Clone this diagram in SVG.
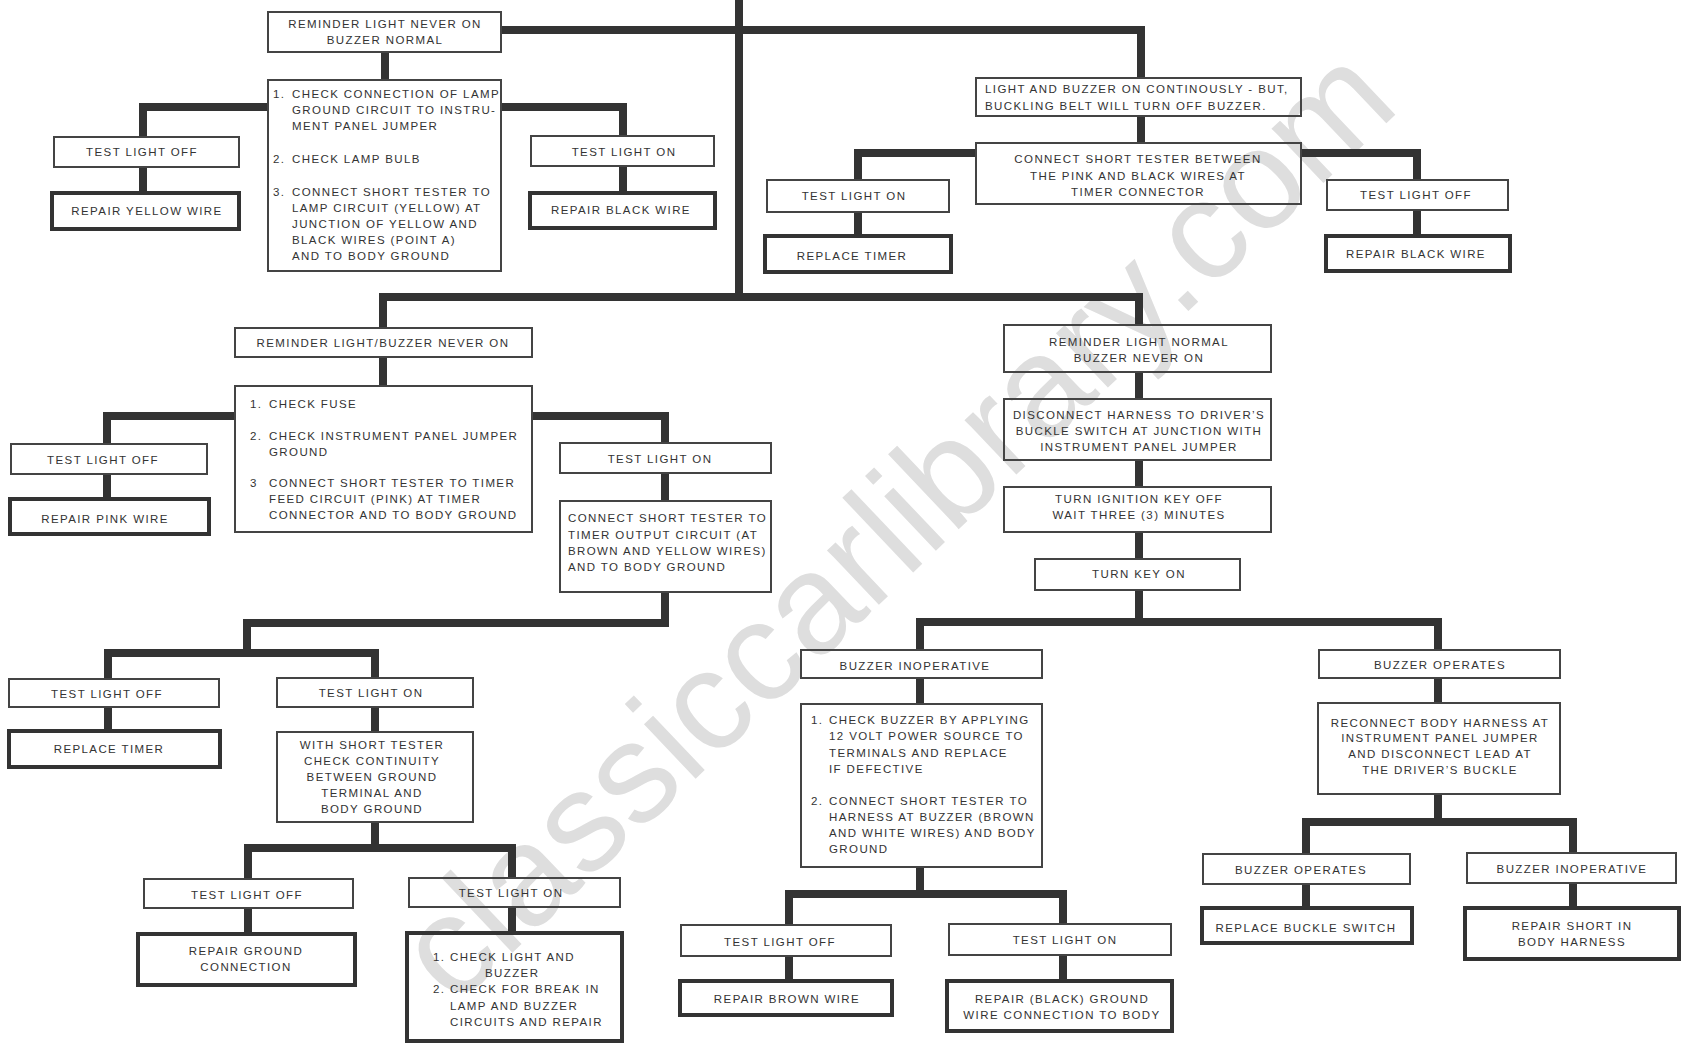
<svg xmlns="http://www.w3.org/2000/svg" width="1681" height="1045" viewBox="0 0 1681 1045">
<style>
.b{fill:none;stroke:#444;stroke-width:2}
.t{fill:none;stroke:#333;stroke-width:4}
.c{fill:none;stroke:#333;stroke-width:8;stroke-linejoin:miter;stroke-linecap:butt}
text{font-family:"Liberation Sans",Arial,sans-serif;font-size:11.5px;letter-spacing:1.4px;fill:#333}
.m{text-anchor:middle}
.wm{font-family:"Liberation Sans",Arial,sans-serif;font-size:142px;letter-spacing:0;fill:#dedede}
</style>
<rect width="1681" height="1045" fill="#fff"/>
<text class="wm" transform="translate(454,1008) rotate(-43.5)">classiccarlibrary.com</text>
<g id="connectors">
<path class="c" d="M739,0 V297"/>
<path class="c" d="M501,30 H1141 V78"/>
<path class="c" d="M385,52 V80"/>
<path class="c" d="M268,107 H143 V137"/>
<path class="c" d="M501,107 H623 V136"/>
<path class="c" d="M143,167 V193"/>
<path class="c" d="M623,166 V193"/>
<path class="c" d="M1141,116 V143"/>
<path class="c" d="M976,153 H858 V180"/>
<path class="c" d="M1301,153 H1417 V180"/>
<path class="c" d="M858,212 V236"/>
<path class="c" d="M1417,210 V236"/>
<path class="c" d="M383,328 V297 H1139 V325"/>
<path class="c" d="M383,357 V386"/>
<path class="c" d="M235,416 H107 V444"/>
<path class="c" d="M532,416 H665 V443"/>
<path class="c" d="M107,474 V499"/>
<path class="c" d="M665,473 V501"/>
<path class="c" d="M665,592 V623 H247 V653"/>
<path class="c" d="M108,679 V653 H375 V678"/>
<path class="c" d="M108,707 V731"/>
<path class="c" d="M375,707 V732"/>
<path class="c" d="M375,822 V848"/>
<path class="c" d="M248,879 V848 H512 V878"/>
<path class="c" d="M248,908 V934"/>
<path class="c" d="M512,907 V933"/>
<path class="c" d="M1139,372 V399"/>
<path class="c" d="M1139,460 V487"/>
<path class="c" d="M1139,532 V559"/>
<path class="c" d="M1139,590 V622"/>
<path class="c" d="M920,650 V622 H1438 V650"/>
<path class="c" d="M920,678 V704"/>
<path class="c" d="M920,867 V894"/>
<path class="c" d="M789,925 V894 H1063 V924"/>
<path class="c" d="M789,956 V981"/>
<path class="c" d="M1063,955 V981"/>
<path class="c" d="M1438,678 V703"/>
<path class="c" d="M1438,794 V822"/>
<path class="c" d="M1306,854 V822 H1573 V853"/>
<path class="c" d="M1306,884 V908"/>
<path class="c" d="M1573,883 V908"/>
</g>
<g id="A1"><rect class="b" x="268" y="12" width="233" height="40"/><text class="m" x="385" y="27.5">REMINDER LIGHT NEVER ON</text><text class="m" x="385" y="43.5">BUZZER NORMAL</text></g>
<g id="A2"><rect class="b" x="268" y="80" width="233" height="191"/>
<text x="273" y="97.5">1.</text><text x="292" y="97.5">CHECK CONNECTION OF LAMP</text>
<text x="292" y="113.5">GROUND CIRCUIT TO INSTRU-</text>
<text x="292" y="129.5">MENT PANEL JUMPER</text>
<text x="273" y="162.5">2.</text><text x="292" y="162.5">CHECK LAMP BULB</text>
<text x="273" y="196">3.</text><text x="292" y="196">CONNECT SHORT TESTER TO</text>
<text x="292" y="212">LAMP CIRCUIT (YELLOW) AT</text>
<text x="292" y="228">JUNCTION OF YELLOW AND</text>
<text x="292" y="244">BLACK WIRES (POINT A)</text>
<text x="292" y="260">AND TO BODY GROUND</text></g>
<g id="A3"><rect class="b" x="54" y="137" width="185" height="30"/><text class="m" x="142" y="156">TEST LIGHT OFF</text></g>
<g id="A4"><rect class="t" x="52" y="193" width="187" height="36"/><text class="m" x="147" y="214.7">REPAIR YELLOW WIRE</text></g>
<g id="A5"><rect class="b" x="531" y="136" width="183" height="30"/><text class="m" x="624" y="156.3">TEST LIGHT ON</text></g>
<g id="A6"><rect class="t" x="530" y="193" width="185" height="35"/><text class="m" x="621" y="214">REPAIR BLACK WIRE</text></g>
<g id="B1"><rect class="b" x="976" y="78" width="325" height="38"/><text x="985" y="93.3">LIGHT AND BUZZER ON CONTINOUSLY - BUT,</text><text x="985" y="110">BUCKLING BELT WILL TURN OFF BUZZER.</text></g>
<g id="B2"><rect class="b" x="976" y="143" width="325" height="61"/><text class="m" x="1138" y="162.7">CONNECT SHORT TESTER BETWEEN</text><text class="m" x="1138" y="179.7">THE PINK AND BLACK WIRES AT</text><text class="m" x="1138" y="196.3">TIMER CONNECTOR</text></g>
<g id="B3"><rect class="b" x="767" y="180" width="182" height="32"/><text class="m" x="854" y="200">TEST LIGHT ON</text></g>
<g id="B4"><rect class="t" x="765" y="236" width="186" height="36"/><text class="m" x="852" y="260">REPLACE TIMER</text></g>
<g id="B5"><rect class="b" x="1327" y="180" width="181" height="30"/><text class="m" x="1416" y="199">TEST LIGHT OFF</text></g>
<g id="B6"><rect class="t" x="1326" y="236" width="184" height="35"/><text class="m" x="1416" y="258">REPAIR BLACK WIRE</text></g>
<g id="C1"><rect class="b" x="235" y="328" width="297" height="29"/><text class="m" x="383" y="347.3">REMINDER LIGHT/BUZZER NEVER ON</text></g>
<g id="C2"><rect class="b" x="235" y="386" width="297" height="146"/>
<text x="250" y="408">1.</text><text x="269" y="408">CHECK FUSE</text>
<text x="250" y="440">2.</text><text x="269" y="440">CHECK INSTRUMENT PANEL JUMPER</text>
<text x="269" y="455.7">GROUND</text>
<text x="250" y="487.3">3</text><text x="269" y="487.3">CONNECT SHORT TESTER TO TIMER</text>
<text x="269" y="503.3">FEED CIRCUIT (PINK) AT TIMER</text>
<text x="269" y="519">CONNECTOR AND TO BODY GROUND</text></g>
<g id="C3"><rect class="b" x="11" y="444" width="196" height="30"/><text class="m" x="103" y="464">TEST LIGHT OFF</text></g>
<g id="C4"><rect class="t" x="10" y="499" width="199" height="35"/><text class="m" x="105" y="523">REPAIR PINK WIRE</text></g>
<g id="C5"><rect class="b" x="560" y="443" width="211" height="30"/><text class="m" x="660" y="463">TEST LIGHT ON</text></g>
<g id="C6"><rect class="b" x="560" y="501" width="211" height="91"/><text x="568" y="522.3">CONNECT SHORT TESTER TO</text><text x="568" y="539">TIMER OUTPUT CIRCUIT (AT</text><text x="568" y="554.7">BROWN AND YELLOW WIRES)</text><text x="568" y="570.7">AND TO BODY GROUND</text></g>
<g id="D1"><rect class="b" x="9" y="679" width="210" height="28"/><text class="m" x="107" y="698">TEST LIGHT OFF</text></g>
<g id="D2"><rect class="t" x="9" y="731" width="211" height="36"/><text class="m" x="109" y="753.3">REPLACE TIMER</text></g>
<g id="D3"><rect class="b" x="277" y="678" width="196" height="29"/><text class="m" x="371" y="697.3">TEST LIGHT ON</text></g>
<g id="D4"><rect class="b" x="277" y="732" width="196" height="90"/><text class="m" x="372" y="749">WITH SHORT TESTER</text><text class="m" x="372" y="765">CHECK CONTINUITY</text><text class="m" x="372" y="781.3">BETWEEN GROUND</text><text class="m" x="372" y="797.3">TERMINAL AND</text><text class="m" x="372" y="813.3">BODY GROUND</text></g>
<g id="D5"><rect class="b" x="144" y="879" width="209" height="29"/><text class="m" x="247" y="899.3">TEST LIGHT OFF</text></g>
<g id="D6"><rect class="t" x="138" y="934" width="217" height="51"/><text class="m" x="246" y="954.7">REPAIR GROUND</text><text class="m" x="246" y="970.7">CONNECTION</text></g>
<g id="D7"><rect class="b" x="409" y="878" width="211" height="29"/><text class="m" x="511" y="897.3">TEST LIGHT ON</text></g>
<g id="D8"><rect class="t" x="407" y="933" width="215" height="108"/>
<text x="433" y="960.7">1.</text><text x="450" y="960.7">CHECK LIGHT AND</text>
<text x="485" y="976.7">BUZZER</text>
<text x="433" y="993">2.</text><text x="450" y="993">CHECK FOR BREAK IN</text>
<text x="450" y="1009.7">LAMP AND BUZZER</text>
<text x="450" y="1025.7">CIRCUITS AND REPAIR</text></g>
<g id="E1"><rect class="b" x="1004" y="325" width="267" height="47"/><text class="m" x="1139" y="346.3">REMINDER LIGHT NORMAL</text><text class="m" x="1139" y="362.3">BUZZER NEVER ON</text></g>
<g id="E2"><rect class="b" x="1004" y="399" width="267" height="61"/><text class="m" x="1139" y="419">DISCONNECT HARNESS TO DRIVER’S</text><text class="m" x="1139" y="435">BUCKLE SWITCH AT JUNCTION WITH</text><text class="m" x="1139" y="451.3">INSTRUMENT PANEL JUMPER</text></g>
<g id="E3"><rect class="b" x="1004" y="487" width="267" height="45"/><text class="m" x="1139" y="503.3">TURN IGNITION KEY OFF</text><text class="m" x="1139" y="519.3">WAIT THREE (3) MINUTES</text></g>
<g id="E4"><rect class="b" x="1035" y="559" width="205" height="31"/><text class="m" x="1139" y="578.3">TURN KEY ON</text></g>
<g id="F0"><rect class="b" x="801" y="650" width="241" height="28"/><text class="m" x="915" y="670">BUZZER INOPERATIVE</text></g>
<g id="F1"><rect class="b" x="801" y="704" width="241" height="163"/>
<text x="811" y="724">1.</text><text x="829" y="724">CHECK BUZZER BY APPLYING</text>
<text x="829" y="740">12 VOLT POWER SOURCE TO</text>
<text x="829" y="756.7">TERMINALS AND REPLACE</text>
<text x="829" y="773">IF DEFECTIVE</text>
<text x="811" y="805.3">2.</text><text x="829" y="805.3">CONNECT SHORT TESTER TO</text>
<text x="829" y="821.3">HARNESS AT BUZZER (BROWN</text>
<text x="829" y="837.3">AND WHITE WIRES) AND BODY</text>
<text x="829" y="853.3">GROUND</text></g>
<g id="F2"><rect class="b" x="681" y="925" width="210" height="31"/><text class="m" x="780" y="945.7">TEST LIGHT OFF</text></g>
<g id="F3"><rect class="t" x="680" y="981" width="212" height="34"/><text class="m" x="787" y="1003.3">REPAIR BROWN WIRE</text></g>
<g id="F4"><rect class="b" x="949" y="924" width="222" height="31"/><text class="m" x="1065" y="944">TEST LIGHT ON</text></g>
<g id="F5"><rect class="t" x="947" y="981" width="225" height="50"/><text class="m" x="1062" y="1003.3">REPAIR (BLACK) GROUND</text><text class="m" x="1062" y="1019.3">WIRE CONNECTION TO BODY</text></g>
<g id="G0"><rect class="b" x="1319" y="650" width="241" height="28"/><text class="m" x="1440" y="669">BUZZER OPERATES</text></g>
<g id="G1"><rect class="b" x="1318" y="703" width="242" height="91"/><text class="m" x="1440" y="726.7">RECONNECT BODY HARNESS AT</text><text class="m" x="1440" y="742.3">INSTRUMENT PANEL JUMPER</text><text class="m" x="1440" y="758.3">AND DISCONNECT LEAD AT</text><text class="m" x="1440" y="774.3">THE DRIVER’S BUCKLE</text></g>
<g id="G2"><rect class="b" x="1203" y="854" width="207" height="30"/><text class="m" x="1301" y="874">BUZZER OPERATES</text></g>
<g id="G3"><rect class="t" x="1202" y="908" width="210" height="35"/><text class="m" x="1306" y="932">REPLACE BUCKLE SWITCH</text></g>
<g id="G4"><rect class="b" x="1467" y="853" width="209" height="30"/><text class="m" x="1572" y="872.7">BUZZER INOPERATIVE</text></g>
<g id="G5"><rect class="t" x="1465" y="908" width="214" height="51"/><text class="m" x="1572" y="929.7">REPAIR SHORT IN</text><text class="m" x="1572" y="945.7">BODY HARNESS</text></g>
</svg>
